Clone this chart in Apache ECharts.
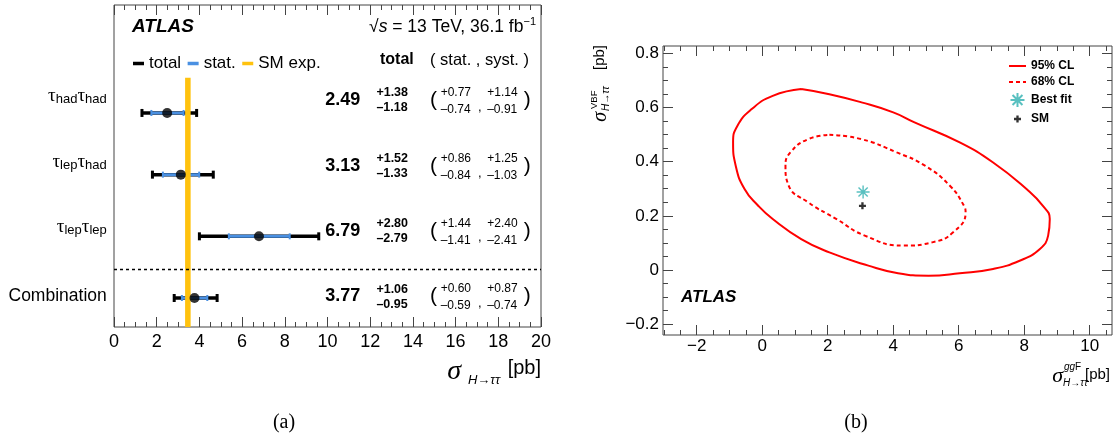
<!DOCTYPE html>
<html>
<head>
<meta charset="utf-8">
<script src="https://cdn.jsdelivr.net/npm/echarts@6/dist/echarts.min.js"></script>
<style>
  html, body { margin: 0; padding: 0; background: #fff; }
  #main { width: 1116px; height: 436px; }
</style>
</head>
<body>
<div id="main"></div>
<script>
const FONT = 'Liberation Sans';
const SERIF = 'Liberation Serif';

// (a) cross sections per channel
const channels = [
  '{t|τ}{s|had}{t|τ}{s|had}',
  '{t|τ}{s|lep}{t|τ}{s|had}',
  '{t|τ}{s|lep}{t|τ}{s|lep}',
  '{c|Combination}'
];
const xsec = [2.49, 3.13, 6.79, 3.77];
const totUp = [1.38, 1.52, 2.80, 1.06];
const totDn = [1.18, 1.33, 2.79, 0.95];
const statUp = [0.77, 0.86, 1.44, 0.60];
const statDn = [0.74, 0.84, 1.41, 0.59];
const systUp = [1.14, 1.25, 2.40, 0.87];
const systDn = [0.91, 1.03, 2.41, 0.74];
const smXsec = 3.46;
const smUnc = 0.13;

// (b) ggF vs VBF contours
const cl95 = [
  [1.19, 0.668], [2.05, 0.649], [3.03, 0.619], [4.0, 0.582], [4.65, 0.545],
  [6.03, 0.471], [7.05, 0.397], [8.07, 0.299], [8.57, 0.237], [8.78, 0.188],
  [8.73, 0.127], [8.47, 0.077], [7.86, 0.034], [7.05, 0.004], [6.03, -0.012],
  [5.08, -0.021], [4.11, -0.011], [3.24, 0.016], [2.05, 0.065], [1.19, 0.114],
  [0.32, 0.188], [-0.13, 0.238], [-0.54, 0.299], [-0.81, 0.385], [-0.89, 0.471],
  [-0.76, 0.532], [-0.32, 0.594], [0.32, 0.643], [1.19, 0.668]
];
const cl68 = [
  [2.05, 0.499], [3.03, 0.483], [4.11, 0.434], [4.97, 0.385], [5.73, 0.311],
  [6.16, 0.237], [6.21, 0.213], [5.83, 0.139], [5.19, 0.102], [4.32, 0.090],
  [3.13, 0.127], [2.27, 0.188], [1.40, 0.250], [0.81, 0.311], [0.71, 0.385],
  [0.86, 0.434], [1.40, 0.483], [2.05, 0.499]
];
const bestFit = [3.08, 0.288];
const smPoint = [3.06, 0.237];
const xTicksB = [-2, 0, 2, 4, 6, 8, 10];
const yTicksB = [-0.2, 0, 0.2, 0.4, 0.6, 0.8];

// row layout of panel (a), in row units from the top of the frame
const rowPos = [1.75, 2.75, 3.75, 4.75];
const textPos = [1.54, 2.61, 3.66, 4.72];
const sepPos = 4.28;
const bandTop = 1.18;

const xMinorB = [];
for (let i = -6; i <= 21; i++) xMinorB.push(i / 2);
const yMinorB = [];
for (let i = -4; i <= 16; i++) yMinorB.push(i / 20);

const minus = v => String(v).replace('-', '\u2212');
const tickColor = '#444';

function barRender(color, lw, capH, capW) {
  return function (params, api) {
    const y = api.value(0);
    const a = api.coord([api.value(1), y]);
    const b = api.coord([api.value(2), y]);
    const st = { stroke: color, lineWidth: lw };
    const cs = { stroke: color, lineWidth: capW };
    return {
      type: 'group',
      children: [
        { type: 'line', shape: { x1: a[0], y1: a[1], x2: b[0], y2: b[1] }, style: st },
        { type: 'line', shape: { x1: a[0], y1: a[1] - capH, x2: a[0], y2: a[1] + capH }, style: cs },
        { type: 'line', shape: { x1: b[0], y1: b[1] - capH, x2: b[0], y2: b[1] + capH }, style: cs }
      ]
    };
  };
}

function txt(x, y, text, size, weight, align) {
  return {
    type: 'text', x: x, y: y,
    style: {
      text: text, fontSize: size, fontWeight: weight || 'normal', fontFamily: FONT,
      fill: '#000', align: align || 'left', verticalAlign: 'middle'
    }
  };
}

function rowText(params, api) {
  const i = params.dataIndex;
  const y = api.coord([0, textPos[i]])[1];
  const X = v => api.coord([v, 0])[0];
  const f = v => v.toFixed(2);
  const sub = channels[i].indexOf('{s|') >= 0;
  return {
    type: 'group',
    children: [
      {
        type: 'text', x: X(-0.34), y: sub ? y - 4 : y,
        style: {
          text: channels[i], align: 'right', verticalAlign: 'middle', fill: '#000',
          rich: {
            t: { fontSize: 19, lineHeight: 20, fontFamily: SERIF, fill: '#000' },
            s: { fontSize: 13, lineHeight: 13, fontFamily: FONT, verticalAlign: 'bottom', fill: '#000' },
            c: { fontSize: 17.5, lineHeight: 20, fontFamily: FONT, fill: '#000' }
          }
        }
      },
      txt(X(11.54), y, f(xsec[i]), 18, 'bold', 'right'),
      txt(X(12.29), y - 7, '+' + f(totUp[i]), 12.5, 'bold'),
      txt(X(12.29), y + 8, '\u2013' + f(totDn[i]), 12.5, 'bold'),
      txt(X(14.97), y, '(', 21, 'normal', 'center'),
      txt(X(15.3), y - 7, '+' + f(statUp[i]), 12),
      txt(X(15.3), y + 10, '\u2013' + f(statDn[i]), 12),
      txt(X(17.13), y + 7, ',', 13, 'normal', 'center'),
      txt(X(17.48), y - 7, '+' + f(systUp[i]), 12),
      txt(X(17.48), y + 10, '\u2013' + f(systDn[i]), 12),
      txt(X(19.35), y, ')', 21, 'normal', 'center')
    ]
  };
}

function axisA(pos) {
  return {
    gridIndex: 0, type: 'value', position: pos, min: 0, max: 20, interval: 2,
    axisLine: { show: false, onZero: false },
    axisTick: { inside: true, length: 10, lineStyle: { color: tickColor } },
    minorTick: { show: true, splitNumber: 4, length: 5, lineStyle: { color: tickColor } },
    axisLabel: pos === 'bottom'
      ? { show: true, margin: 6, fontSize: 18, fontFamily: FONT, color: '#000' }
      : { show: false },
    splitLine: { show: false }, minorSplitLine: { show: false }
  };
}

function axisB(dim, pos, ticks, len, labels) {
  const ax = {
    gridIndex: 1, type: 'value', position: pos,
    min: dim === 'x' ? -3.03 : -0.24,
    max: dim === 'x' ? 10.68 : 0.827,
    axisLine: { show: false, onZero: false },
    axisTick: { show: true, inside: true, length: len, customValues: ticks, lineStyle: { color: tickColor } },
    axisLabel: { show: false },
    splitLine: { show: false }
  };
  if (labels) {
    ax.axisLabel = {
      show: true, customValues: ticks, margin: dim === 'x' ? 3 : 4,
      fontSize: 17, fontFamily: FONT, color: '#000', formatter: minus
    };
  }
  return ax;
}

const asterisk = 'path://M0,-10L0,10M-10,0L10,0M-7.07,-7.07L7.07,7.07M-7.07,7.07L7.07,-7.07';
const plus = 'path://M-12,-12M12,12M-2,-6L2,-6L2,-2L6,-2L6,2L2,2L2,6L-2,6L-2,2L-6,2L-6,-2L-2,-2Z';
const noMarker = { color: 'rgba(0,0,0,0)', opacity: 0, borderWidth: 0 };

const chart = echarts.init(document.getElementById('main'));
chart.setOption({
  animation: false,
  backgroundColor: '#fff',
  grid: [
    { left: 114, top: 5, width: 427, height: 322, show: true, borderColor: tickColor, borderWidth: 1 },
    { left: 663, top: 46, width: 449, height: 289, show: true, borderColor: tickColor, borderWidth: 1 }
  ],
  xAxis: [
    axisA('bottom'),
    axisA('top'),
    axisB('x', 'bottom', xTicksB, 10, true),
    axisB('x', 'bottom', xMinorB, 5, false),
    axisB('x', 'top', xTicksB, 10, false),
    axisB('x', 'top', xMinorB, 5, false)
  ],
  yAxis: [
    { gridIndex: 0, type: 'value', min: 0, max: 5.22, inverse: true, show: false },
    axisB('y', 'left', yTicksB, 10, true),
    axisB('y', 'left', yMinorB, 5, false),
    axisB('y', 'right', yTicksB, 10, false),
    axisB('y', 'right', yMinorB, 5, false)
  ],
  legend: [
    {
      data: ['total', 'stat.', 'SM exp.'], left: 128, top: 50, icon: 'rect',
      itemWidth: 11, itemHeight: 3.5, itemGap: 6.5, selectedMode: false,
      textStyle: { fontFamily: FONT, fontSize: 17, color: '#000' }
    },
    {
      data: [
        { name: '95% CL', itemStyle: noMarker },
        { name: '68% CL', itemStyle: noMarker },
        'Best fit',
        'SM'
      ],
      orient: 'vertical', left: 1003, top: 55,
      itemWidth: 17, itemHeight: 14, itemGap: 4, selectedMode: false,
      textStyle: { fontFamily: FONT, fontSize: 12, fontWeight: 'bold', color: '#000' }
    }
  ],
  series: [
    {
      name: 'total', type: 'custom', xAxisIndex: 0, yAxisIndex: 0, z: 2,
      itemStyle: { color: '#000' },
      renderItem: barRender('#000', 3.5, 4, 3),
      data: xsec.map((v, i) => [rowPos[i], v - totDn[i], v + totUp[i]])
    },
    {
      name: 'stat.', type: 'custom', xAxisIndex: 0, yAxisIndex: 0, z: 3,
      itemStyle: { color: '#4a90e2' },
      renderItem: barRender('#4a90e2', 3, 3, 2),
      data: xsec.map((v, i) => [rowPos[i], v - statDn[i], v + statUp[i]])
    },
    {
      name: 'SM exp.', type: 'custom', xAxisIndex: 0, yAxisIndex: 0, z: 4,
      itemStyle: { color: '#ffc20e' },
      renderItem: function (params, api) {
        const a = api.coord([api.value(0), api.value(2)]);
        const b = api.coord([api.value(1), api.value(3)]);
        return { type: 'rect', shape: { x: a[0], y: a[1], width: b[0] - a[0], height: b[1] - a[1] }, style: { fill: '#ffc20e' } };
      },
      data: [[smXsec - smUnc, smXsec + smUnc, bandTop, 5.22]]
    },
    {
      name: 'central', type: 'scatter', xAxisIndex: 0, yAxisIndex: 0, z: 5,
      symbol: 'circle', symbolSize: 10, itemStyle: { color: '#000' },
      data: xsec.map((v, i) => [v, rowPos[i]]),
      markLine: {
        silent: true, symbol: 'none', label: { show: false },
        lineStyle: { color: '#000', type: [3, 3], width: 1.3 },
        data: [{ yAxis: sepPos }]
      }
    },
    {
      name: 'numbers', type: 'custom', xAxisIndex: 0, yAxisIndex: 0, z: 6,
      renderItem: rowText,
      data: xsec.map((v, i) => [i])
    },
    {
      name: '95% CL', type: 'line', xAxisIndex: 2, yAxisIndex: 1, data: cl95,
      symbol: 'none', showSymbol: false, smooth: 0.5,
      lineStyle: { color: '#ff0000', width: 2 }, itemStyle: { color: '#ff0000' }
    },
    {
      name: '68% CL', type: 'line', xAxisIndex: 2, yAxisIndex: 1, data: cl68,
      symbol: 'none', showSymbol: false, smooth: 0.5,
      lineStyle: { color: '#ff0000', width: 2, type: [4, 3] }, itemStyle: { color: '#ff0000' }
    },
    {
      name: 'Best fit', type: 'scatter', xAxisIndex: 2, yAxisIndex: 1, data: [bestFit],
      symbol: asterisk, symbolSize: 13,
      itemStyle: { color: 'rgba(0,0,0,0)', borderColor: '#30b0b0', borderWidth: 1.4 }
    },
    {
      name: 'SM', type: 'scatter', xAxisIndex: 2, yAxisIndex: 1, data: [smPoint],
      symbol: plus, symbolSize: 14, itemStyle: { color: '#000' }
    }
  ],
  graphic: [
    { type: 'text', x: 132, y: 27, style: { text: 'ATLAS', fontFamily: FONT, fontSize: 19, fontWeight: 'bold', fontStyle: 'italic', fill: '#000', verticalAlign: 'middle' } },
    {
      type: 'text', x: 536, y: 27,
      style: {
        text: '{r|\u221A}{i|s}{r| = 13 TeV, 36.1 fb}{u|\u22121}', align: 'right', verticalAlign: 'middle',
        rich: {
          r: { fontFamily: FONT, fontSize: 17.5, lineHeight: 22, fill: '#000' },
          i: { fontFamily: FONT, fontSize: 17.5, lineHeight: 22, fontStyle: 'italic', fill: '#000' },
          u: { fontFamily: FONT, fontSize: 11, lineHeight: 12, verticalAlign: 'top', fill: '#000' }
        }
      }
    },
    { type: 'text', x: 380, y: 60, style: { text: 'total', fontFamily: FONT, fontSize: 16, fontWeight: 'bold', fill: '#000', verticalAlign: 'middle' } },
    { type: 'text', x: 430, y: 60, style: { text: '( stat. , syst. )', fontFamily: FONT, fontSize: 16.5, fill: '#000', verticalAlign: 'middle' } },
    { type: 'text', x: 541, y: 368, style: { text: '[pb]', fontFamily: FONT, fontSize: 20, fill: '#000', align: 'right', verticalAlign: 'middle' } },
    { type: 'text', x: 500, y: 380, style: { text: 'H\u2192\u03C4\u03C4', fontFamily: FONT, fontSize: 13, fontStyle: 'italic', fill: '#000', align: 'right', verticalAlign: 'middle' } },
    { type: 'text', x: 461, y: 372, style: { text: '\u03C3', fontFamily: SERIF, fontSize: 28, fontStyle: 'italic', fill: '#000', align: 'right', verticalAlign: 'middle' } },
    { type: 'text', x: 284, y: 423, style: { text: '(a)', fontFamily: SERIF, fontSize: 20, fill: '#000', align: 'center', verticalAlign: 'middle' } },
    { type: 'text', x: 856, y: 423, style: { text: '(b)', fontFamily: SERIF, fontSize: 20, fill: '#000', align: 'center', verticalAlign: 'middle' } },
    { type: 'text', x: 681, y: 297, style: { text: 'ATLAS', fontFamily: FONT, fontSize: 17, fontWeight: 'bold', fontStyle: 'italic', fill: '#000', verticalAlign: 'middle' } },
    { type: 'text', x: 1110, y: 375, style: { text: '[pb]', fontFamily: FONT, fontSize: 15, fill: '#000', align: 'right', verticalAlign: 'middle' } },
    { type: 'text', x: 1063, y: 383, style: { text: 'H\u2192\u03C4\u03C4', fontFamily: FONT, fontSize: 10, fontStyle: 'italic', fill: '#000', verticalAlign: 'middle' } },
    {
      type: 'text', x: 1064, y: 367,
      style: {
        text: '{i|gg}{r|F}', verticalAlign: 'middle',
        rich: {
          i: { fontFamily: FONT, fontSize: 10, fontStyle: 'italic', fill: '#000' },
          r: { fontFamily: FONT, fontSize: 10, fill: '#000' }
        }
      }
    },
    { type: 'text', x: 1063, y: 376, style: { text: '\u03C3', fontFamily: SERIF, fontSize: 22, fontStyle: 'italic', fill: '#000', align: 'right', verticalAlign: 'middle' } },
    {
      type: 'group', x: 600, y: 45, rotation: Math.PI / 2,
      children: [
        { type: 'text', x: 0, y: 0, style: { text: '[pb]', fontFamily: FONT, fontSize: 15, fill: '#000', align: 'right', verticalAlign: 'middle' } },
        { type: 'text', x: -67, y: 1, style: { text: '\u03C3', fontFamily: SERIF, fontSize: 20, fontStyle: 'italic', fill: '#000', align: 'right', verticalAlign: 'middle' } },
        { type: 'text', x: -64, y: -6, style: { text: 'VBF', fontFamily: FONT, fontSize: 9.5, fill: '#000', verticalAlign: 'middle' } },
        { type: 'text', x: -66, y: 6, style: { text: 'H\u2192\u03C4\u03C4', fontFamily: FONT, fontSize: 10, fontStyle: 'italic', fill: '#000', verticalAlign: 'middle' } }
      ]
    }
  ]
});
</script>
</body>
</html>
